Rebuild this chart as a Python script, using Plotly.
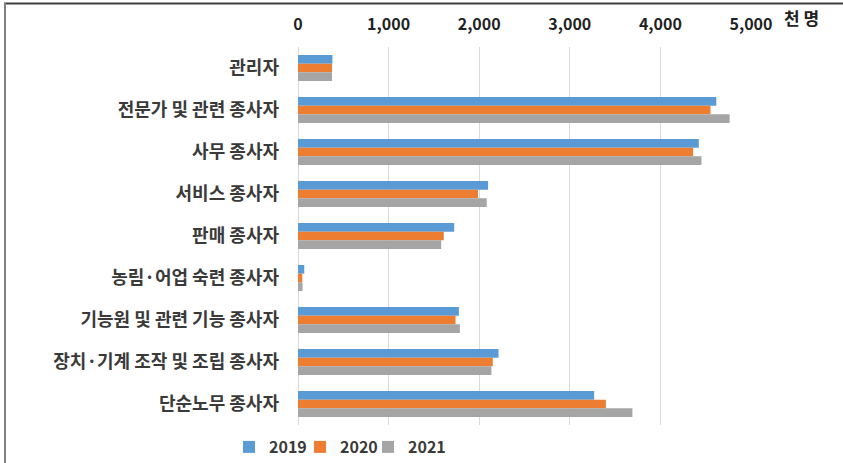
import plotly.graph_objects as go

categories = ["관리자", "전문가 및 관련 종사자", "사무 종사자", "서비스 종사자", "판매 종사자",
              "농림·어업 숙련 종사자", "기능원 및 관련 기능 종사자", "장치·기계 조작 및 조립 종사자", "단순노무 종사자"]
years = ["2019", "2020", "2021"]
v2019 = [380, 4617, 4424, 2098, 1724, 69, 1776, 2213, 3269]
v2020 = [375, 4553, 4361, 1987, 1609, 47, 1739, 2150, 3398]
v2021 = [375, 4764, 4453, 2083, 1580, 50, 1787, 2135, 3691]
x_ticks = [0, 1000, 2000, 3000, 4000, 5000]
unit_label = "천 명"

colors = ["#5B9BD5", "#ED7D31", "#A5A5A5"]
FONT = "Noto Sans CJK KR"
W, H = 843, 463
L, R, T, B = 298, 92, 47, 38
pw, ph = W - L - R, H - T - B

def px2x(p):
    return (p - L) / pw

def py2y(p):
    return (H - B - p) / ph

legend_ids = ["legend", "legend2", "legend3"]
legend_left_px = [229, 300, 368]

fig = go.Figure()
for name, vals, c, lg in zip(years, [v2019, v2020, v2021], colors, legend_ids):
    fig.add_trace(go.Bar(y=categories, x=vals, name=name, orientation="h", legend=lg,
                         marker=dict(color=c, line=dict(width=0))))

legend_style = dict(orientation="h", xanchor="left", y=py2y(447), yanchor="middle",
                    font=dict(family=FONT, size=16, color="#3a3a3a", weight="bold"),
                    bgcolor="rgba(0,0,0,0)", borderwidth=0)
legends = {lg: dict(legend_style, x=px2x(xp)) for lg, xp in zip(legend_ids, legend_left_px)}

fig.update_layout(
    width=W, height=H,
    margin=dict(l=L, r=R, t=T, b=B, pad=0, autoexpand=False),
    paper_bgcolor="white", plot_bgcolor="white",
    barmode="group", bargap=0.38, bargroupgap=0,
    font=dict(family=FONT, color="#3a3a3a"),
    showlegend=True,
    **legends,
    xaxis=dict(side="top", range=[0, 5000], tickvals=x_ticks, tickformat=",d",
               showgrid=True, gridcolor="#d9d9d9", gridwidth=1,
               zeroline=True, zerolinecolor="#d9d9d9", zerolinewidth=1,
               showline=False, ticks="", ticklabelstandoff=13, automargin=False,
               tickfont=dict(family=FONT, size=16, color="#222222", weight="bold"),
               fixedrange=True),
    yaxis=dict(autorange="reversed", showgrid=False, zeroline=False, showline=False,
               ticks="", ticklabelstandoff=18, automargin=False,
               tickfont=dict(family=FONT, size=18, color="#3a3a3a", weight="bold"),
               fixedrange=True),
    annotations=[dict(text=unit_label, xref="paper", yref="paper", x=px2x(782), y=py2y(18),
                      xanchor="left", yanchor="middle", showarrow=False,
                      font=dict(family=FONT, size=17, color="#222222", weight="bold"))],
    shapes=[
        dict(type="line", xref="paper", yref="paper", x0=px2x(4), x1=px2x(W + 2),
             y0=py2y(3.5), y1=py2y(3.5), line=dict(color="#404040", width=2)),
        dict(type="line", xref="paper", yref="paper", x0=px2x(5), x1=px2x(5),
             y0=py2y(3), y1=py2y(H + 2), line=dict(color="#808080", width=2)),
    ],
)

fig.write_html("out.html", config={"displayModeBar": False},
               post_script="document.body.style.margin='0';document.body.style.overflow='hidden';")
